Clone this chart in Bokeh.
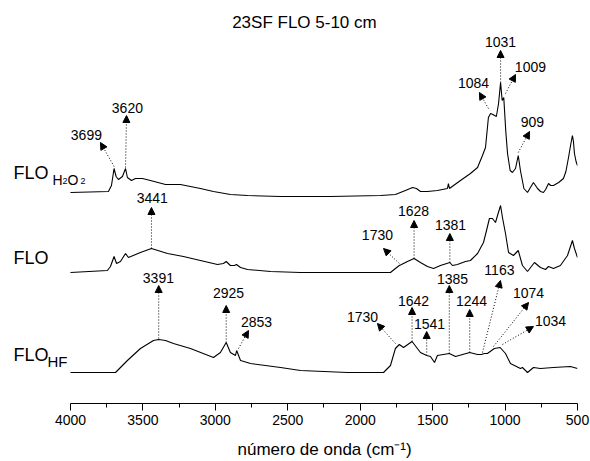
from bokeh.plotting import figure
from bokeh.layouts import column
from bokeh.models import Range1d, FixedTicker, Arrow, NormalHead, ColumnDataSource, Label
from bokeh.core.properties import value
from bokeh.embed import file_html
from bokeh.resources import INLINE

# ---------------- data (wavenumber cm-1, absorbance a.u. with offsets) ----------------
wn_h2o2 = [4000, 3738, 3717, 3699, 3685, 3669, 3641, 3620, 3607, 3579, 3551, 3503, 3448, 3344,
           3241, 3103, 3013, 2896, 2778, 2550, 2205, 1860, 1757, 1688, 1639, 1612, 1584, 1536,
           1467, 1398, 1391, 1384, 1308, 1239, 1190, 1156, 1135, 1115, 1100, 1084, 1060, 1045,
           1031, 1020, 1009, 995, 983, 965, 949, 928, 909, 894, 870, 845, 825, 804, 790, 776,
           755, 735, 720, 700, 685, 666, 630, 597, 580, 562, 548, 535, 528, 521, 510, 500]
a_h2o2 = [211, 212, 218, 235, 227, 224, 227, 235, 226, 223, 225, 225, 223, 219,
          219, 215, 212, 209, 208, 207, 207, 208, 209, 213, 216, 215, 212, 212,
          213, 215, 220, 215, 223, 230, 236, 248, 256, 286, 290, 289, 287, 300,
          321, 303, 306, 272, 250, 233, 231, 235, 248, 233, 215, 211, 216, 221, 218, 215,
          212, 211, 214, 220, 218, 218, 221, 225, 232, 246, 258, 268, 262, 250, 242, 238]

wn_flo = [4000, 3745, 3724, 3699, 3682, 3655, 3620, 3600, 3517, 3441, 3330, 3220, 3103, 2985,
          2944, 2925, 2896, 2868, 2854, 2826, 2778, 2619, 2412, 2067, 1791, 1757, 1730, 1715,
          1674, 1628, 1584, 1536, 1494, 1446, 1381, 1363, 1329, 1273, 1239, 1190, 1149, 1128,
          1108, 1087, 1066, 1052, 1031, 1018, 997, 976, 942, 909, 880, 845, 797, 756, 721,
          700, 666, 618, 569, 535, 521, 500]
a_flo = [131, 133, 137, 147, 140, 142, 150, 146, 151, 155, 150, 147, 143, 139,
         140, 142, 138, 138, 139, 136, 134, 132, 131, 131, 131, 135, 138, 139,
         142, 145, 141, 137, 135, 138, 141, 138, 139, 142, 143, 150, 161, 173,
         185, 185, 181, 188, 198, 186, 170, 151, 148, 153, 138, 132, 141, 136, 134,
         137, 135, 138, 148, 163, 155, 146]

wn_hf = [4000, 3689, 3607, 3517, 3427, 3391, 3344, 3289, 3172, 3013, 2965, 2925, 2896, 2861,
         2853, 2826, 2757, 2550, 2412, 2088, 1839, 1791, 1757, 1730, 1701, 1642, 1584, 1541,
         1515, 1487, 1467, 1385, 1342, 1244, 1190, 1163, 1142, 1122, 1074, 1034, 997, 963,
         894, 880, 845, 804, 756, 666, 549, 500]
a_hf = [31, 31, 43, 55, 63, 64, 63, 60, 55, 46, 51, 61, 51, 48,
        53, 43, 40, 36, 33, 31, 31, 38, 55, 59, 56, 62, 51, 48,
        47, 41, 48, 50, 47, 51, 49, 49, 50, 50, 55, 56, 50, 40,
        35, 36, 31, 36, 35, 36, 37, 35]

x_ticks = [4000, 3500, 3000, 2500, 2000, 1500, 1000, 500]
x_minor = [3750, 3250, 2750, 2250, 1750, 1250, 750]

# peak annotations: text, arrow start (wn, a), arrow end (wn, a), label (wn, a baseline)
peaks = [
    ("3699", 3699, 237, 3793, 261, 3890, 269),
    ("3620", 3620, 236, 3613, 288, 3607, 296),
    ("1084", 1115, 295, 1177, 311, 1218, 321),
    ("1031", 1031, 321, 1031, 353, 1031, 362),
    ("1009", 997, 310, 928, 329, 825, 337),
    ("909", 909, 251, 831, 272, 811, 282),
    ("3441", 3441, 155, 3441, 196, 3435, 206),
    ("1730", 1730, 140, 1839, 155, 1881, 169),
    ("1628", 1628, 145, 1628, 183, 1632, 193),
    ("1381", 1381, 141, 1381, 170, 1377, 179),
    ("3391", 3391, 65, 3391, 118, 3393, 126),
    ("2925", 2925, 61, 2925, 98, 2909, 111),
    ("2853", 2840, 55, 2771, 73, 2716, 82),
    ("1730", 1757, 60, 1881, 80, 1984, 87),
    ("1642", 1642, 62, 1642, 96, 1632, 103),
    ("1541", 1541, 48, 1541, 72, 1522, 80),
    ("1385", 1385, 50, 1385, 118, 1363, 125),
    ("1244", 1244, 51, 1244, 94, 1232, 103),
    ("1163", 1156, 51, 1032, 123, 1039, 134),
    ("1074", 1080, 57, 838, 101, 838, 111),
    ("1034", 1018, 59, 804, 77, 686, 83),
]

FONT = "Liberation Sans"

p = figure(width=590, height=440, output_backend="svg", toolbar_location=None,
           x_range=Range1d(4483, 500), y_range=Range1d(0, 403),
           y_axis_location=None, min_border_left=0, min_border_right=13,
           min_border_top=0, min_border_bottom=37)
p.outline_line_color = None
p.grid.visible = False
p.background_fill_color = "white"
p.border_fill_color = "white"

for wn, a in ((wn_h2o2, a_h2o2), (wn_flo, a_flo), (wn_hf, a_hf)):
    p.line(wn, a, line_color="black", line_width=1.1)

ax = p.xaxis[0]
ax.bounds = (500, 4000)
ax.ticker = FixedTicker(ticks=x_ticks, minor_ticks=x_minor)
ax.major_tick_in = 0
ax.major_tick_out = 7
ax.minor_tick_in = 0
ax.minor_tick_out = 4
ax.axis_line_color = "black"
ax.major_tick_line_color = "black"
ax.minor_tick_line_color = "black"
ax.major_label_text_font = FONT
ax.major_label_text_font_size = "14px"
ax.major_label_text_color = "black"
ax.major_label_standoff = 4

src = ColumnDataSource(dict(
    x0=[q[1] for q in peaks], y0=[q[2] for q in peaks],
    x1=[q[3] for q in peaks], y1=[q[4] for q in peaks]))
p.add_layout(Arrow(source=src, x_start="x0", y_start="y0", x_end="x1", y_end="y1",
                   line_color="black", line_width=1, line_dash="1 2",
                   end=NormalHead(size=7, fill_color="black", line_color="black", line_width=1)))

lab_src = ColumnDataSource(dict(x=[q[5] for q in peaks], y=[q[6] for q in peaks],
                                t=[q[0] for q in peaks]))
p.text(x="x", y="y", text="t", source=lab_src, text_align="center",
       text_baseline="alphabetic", text_font=value(FONT), text_font_size="14px",
       text_color="black")


def lab(fig, x, y, t, size, align="left"):
    fig.add_layout(Label(x=x, y=y, text=t, text_font=FONT, text_font_size=size,
                         text_color="black", text_align=align, text_baseline="alphabetic"))


# trace names
lab(p, 4393, 231, "FLO", "18px")
lab(p, 4124, 224, "H", "14px")
lab(p, 4055, 223, "2", "9px")
lab(p, 4021, 224, "O", "14px")
lab(p, 3931, 223, "2", "9px")
lab(p, 4393, 146, "FLO", "18px")
lab(p, 4393, 49, "FLO", "18px")
lab(p, 4159, 42, "HF", "15px")

# title
lab(p, 2385, 381, "23SF FLO 5-10 cm", "17px", "center")

# strip below the axis carrying the axis title
p2 = figure(width=590, height=21, output_backend="svg", toolbar_location=None,
            x_range=p.x_range, y_range=Range1d(0, 21),
            x_axis_location=None, y_axis_location=None,
            min_border_left=0, min_border_right=13, min_border_top=0, min_border_bottom=0)
p2.outline_line_color = None
p2.grid.visible = False
p2.background_fill_color = "white"
p2.border_fill_color = "white"
lab(p2, 2246, 12, "número de onda (cm⁻¹)", "17px", "center")

open("out.html", "w").write(file_html(column(p, p2, spacing=0), INLINE))
